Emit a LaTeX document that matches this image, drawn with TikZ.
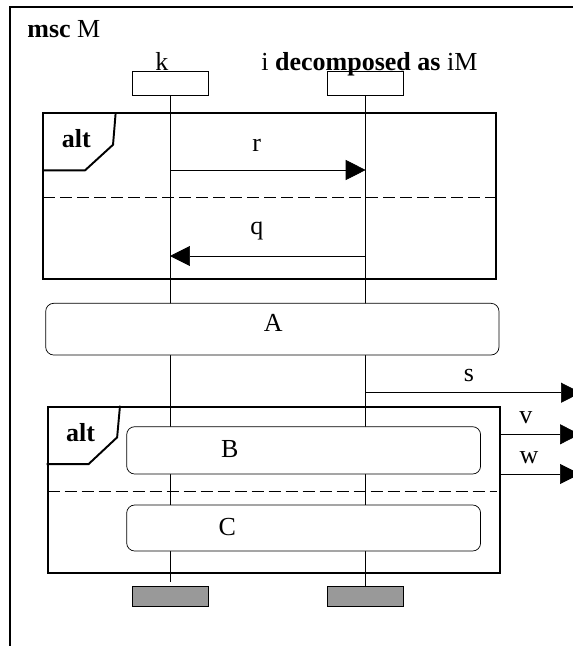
\documentclass[tikz,border=0pt]{standalone}
\usepackage{fontspec}
\setmainfont{Liberation Serif}
\usepackage{tikz}
\usetikzlibrary{arrows.meta}
\usetikzlibrary{backgrounds}
\usetikzlibrary{shapes,shapes.misc}
\usetikzlibrary{calc}
\pgfdeclarelayer{edgelayer}
\pgfdeclarelayer{nodelayer}
\pgfsetlayers{background,edgelayer,nodelayer,main}
\tikzstyle{none}=[inner sep=0mm]
\tikzstyle{lbl}=[inner sep=0mm,anchor=base]
\tikzstyle{mscframe}=[draw,line width=1.1pt,inner sep=0pt,anchor=north west,minimum width=12cm,minimum height=13.5cm]
\tikzstyle{lifehead}=[draw,fill=white,inner sep=0pt,minimum width=1.52cm,minimum height=0.49cm]
\tikzstyle{lifeend}=[lifehead,minimum height=0.386cm]
\tikzstyle{altbox}=[draw,line width=1.1pt,inner sep=0pt,minimum height=3.32cm]
\tikzstyle{refbox}=[draw,fill=white,rounded corners=0.16cm,inner sep=0pt]
\tikzstyle{msg}=[-{Triangle[length=0.4cm,width=0.4cm]}]
\tikzstyle{altsep}=[dash pattern=on 0.24cm off 0.1cm]
\tikzset{
	lifeend/.append style={fill={rgb,255:red,153;green,153;blue,153}}
}
\begin{document}
\begin{tikzpicture}[line width=1pt,font=\fontsize{14.8}{17.8}\selectfont]
	\useasboundingbox (0,0) rectangle (11.46,-12.92);
	\begin{pgfonlayer}{nodelayer}
		\node [style=mscframe] (msc) at (0.186, -0.12) {};
		\node [style=lbl, anchor=base west] (mscname) at (0.54, -0.74) {\textbf{msc} M};
		\node [style=lifehead] (kh) at (3.4, -1.667) {};
		\node [style=lifehead] (ih) at (7.314, -1.667) {};
		\node [style=lbl] (kname) at (3.24, -1.4) {k};
		\node [style=lbl, anchor=base west] (iname) at (5.22, -1.4) {i \textbf{decomposed as} iM};
		\node [style=lifeend] (ke) at (3.4, -11.927) {};
		\node [style=lifeend] (ie) at (7.314, -11.927) {};
		\node [style=none] (kb) at (3.4, -11.646) {};
		\node [style=altbox, minimum width=9.052cm] (alt1) at (5.394, -3.926) {};
		\node [style=lbl] (alt1name) at (1.526, -2.946) {\textbf{alt}};
		\node [style=none] (r0) at (3.4, -3.4) {};
		\node [style=none] (r1) at (7.314, -3.4) {};
		\node [style=lbl] (rname) at (5.134, -3.034) {r};
		\node [style=none] (d1a) at (0.868, -3.946) {};
		\node [style=none] (d1b) at (9.92, -3.946) {};
		\node [style=none] (q0) at (7.314, -5.12) {};
		\node [style=none] (q1) at (3.4, -5.12) {};
		\node [style=lbl] (qname) at (5.14, -4.694) {q};
		\node [style=refbox, minimum width=9.066cm, minimum height=1.034cm] (A) at (5.447, -6.583) {};
		\node [style=lbl] (Aname) at (5.466, -6.62) {A};
		\node [style=none] (s0) at (7.314, -7.854) {};
		\node [style=none] (s1) at (11.62, -7.854) {};
		\node [style=lbl] (sname) at (9.38, -7.634) {s};
		\node [style=altbox, minimum width=9.048cm] (alt2) at (5.476, -9.794) {};
		\node [style=lbl] (alt2name) at (1.61, -8.834) {\textbf{alt}};
		\node [style=refbox, minimum width=7.078cm, minimum height=0.946cm] (B) at (6.073, -9.007) {};
		\node [style=lbl] (Bname) at (4.594, -9.154) {B};
		\node [style=none] (d2a) at (0.952, -9.82) {};
		\node [style=none] (d2b) at (9.94, -9.82) {};
		\node [style=refbox, minimum width=7.078cm, minimum height=0.92cm] (C) at (6.073, -10.56) {};
		\node [style=lbl] (Cname) at (4.546, -10.7) {C};
		\node [style=none] (v0) at (10.0, -8.686) {};
		\node [style=none] (v1) at (11.6, -8.686) {};
		\node [style=lbl] (vname) at (10.52, -8.466) {v};
		\node [style=none] (w0) at (10.0, -9.48) {};
		\node [style=none] (w1) at (11.6, -9.48) {};
		\node [style=lbl] (wname) at (10.58, -9.266) {w};
	\end{pgfonlayer}
	\begin{pgfonlayer}{edgelayer}
		\draw (kh) to (kb.center);
		\draw (ih) to (ie);
		\draw [style=msg] (r0.center) to (r1.center);
		\draw [style=msg] (q0.center) to (q1.center);
		\draw [style=msg] (s0.center) to (s1.center);
		\draw [style=msg] (v0.center) to (v1.center);
		\draw [style=msg] (w0.center) to (w1.center);
		\draw [style=altsep] (d1a.center) to (d1b.center);
		\draw [style=altsep] (d2a.center) to (d2b.center);
		\draw [line width=1.1pt] ([yshift=-1.16cm]alt1.north west) -- ++(0.852, 0) -- ++(0.56, 0.512) -- (alt1.north west -| 2.314, 0);
		\draw [line width=1.1pt] ([yshift=-1.166cm]alt2.north west) -- ++(0.84, 0) -- ++(0.57, 0.534) -- (alt2.north west -| 2.4, 0);
	\end{pgfonlayer}
\end{tikzpicture}
\end{document}
